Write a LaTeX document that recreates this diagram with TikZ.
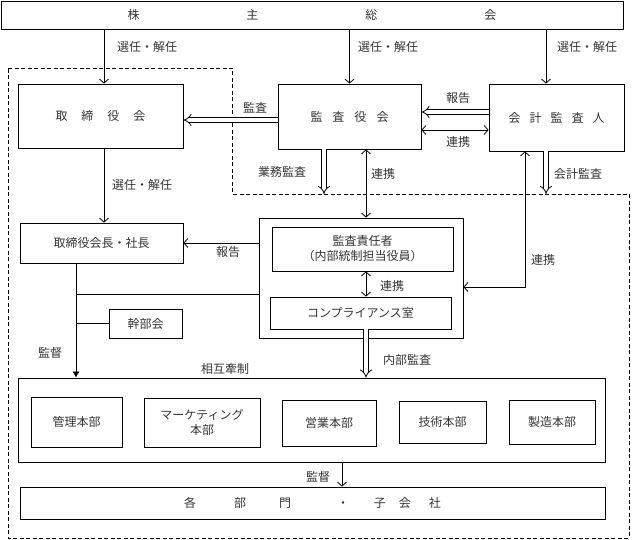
\documentclass[tikz,border=0pt]{standalone}
\usepackage{fontspec}
\setmainfont{Noto Sans CJK JP}
\usetikzlibrary{arrows.meta,calc}
\tikzset{>={Straight Barb[length=4pt,width=9pt]}}
\tikzset{
  box/.style={draw,line width=0.8pt,inner sep=0pt,align=center,text=black!80,font=\fontsize{12}{15}\selectfont},
  lbl/.style={text=black!80,font=\fontsize{12}{15}\selectfont},
  conn/.style={line width=0.8pt},
  arr/.style={line width=0.8pt,->},
  dbl/.style={line width=0.8pt,double=white,double distance=3.5pt,-{Implies}},
  boundary/.style={line width=0.8pt,dash pattern=on 4pt off 2.5pt},
}

\begin{document}
\begin{tikzpicture}[x=1pt,y=-1pt]
  \useasboundingbox (0,0) rectangle (638,540);

  % Boundary
  \draw[boundary] (8,68) -- (232,68) -- (232,194) -- (629,194) -- (629,538) -- (8,538) -- cycle;

  % Boxes
  \node[box,minimum width=622pt,minimum height=28pt] (soukai) at (312,15) {株\hspace{107pt}主\hspace{107pt}総\hspace{107pt}会};
  \node[box,minimum width=165pt,minimum height=64pt] (board) at (100.5,116) {取\hspace{14pt}締\hspace{14pt}役\hspace{14pt}会};
  \node[box,minimum width=143pt,minimum height=65pt] (kansa) at (349.5,116.5) {監\hspace{10pt}査\hspace{10pt}役\hspace{10pt}会};
  \node[box,minimum width=135pt,minimum height=67pt] (kaikei) at (556.5,117.5) {会\hspace{9pt}計\hspace{9pt}監\hspace{9pt}査\hspace{9pt}人};
  \node[box,minimum width=163pt,minimum height=40pt] (chair) at (101.5,243) {取締役会長・社長};
  \node[box,minimum width=204pt,minimum height=120pt] (audit) at (361,278) {};
  \node[box,minimum width=181pt,minimum height=44pt] (resp) at (362.5,249) {監査責任者\\（内部統制担当役員）};
  \node[box,minimum width=181pt,minimum height=32pt] (comp) at (360.5,313) {コンプライアンス室};
  \node[box,minimum width=73pt,minimum height=29pt] (kanbu) at (145.5,323.5) {幹部会};
  \node[box,minimum width=587pt,minimum height=84pt] (honbu) at (311.5,420) {};
  \node[box,minimum width=91pt,minimum height=50pt] (kanri) at (76.5,422) {管理本部};
  \node[box,minimum width=116pt,minimum height=49pt] (mkt) at (202,422.5) {マーケティング\\本部};
  \node[box,minimum width=94pt,minimum height=46pt] (eigyo) at (329,423) {営業本部};
  \node[box,minimum width=87pt,minimum height=42pt] (gijutsu) at (442.5,422) {技術本部};
  \node[box,minimum width=86pt,minimum height=44pt] (seizo) at (552,422) {製造本部};
  \node[box,minimum width=585pt,minimum height=32pt] (bumon) at (312.5,503) {各\hspace{38pt}部\hspace{33pt}門\hspace{46pt}・\hspace{25pt}子\hspace{13pt}会\hspace{18pt}社};

  % Coordinates
  \coordinate (dline) at (0,194);
  \coordinate (s1) at ($(board.north)+(3.5,0)$);
  \coordinate (s2) at (kansa.north);
  \coordinate (s3) at ($(kaikei.north)+(-10.5,0)$);
  \coordinate (k1) at ($(kansa.west)+(0,3.5)$);
  \coordinate (h1) at ($(kaikei.west)+(0,-5.5)$);
  \coordinate (r1) at ($(kaikei.west)+(0,12.5)$);
  \coordinate (g1) at ($(kansa.south)+(-25.5,0)$);
  \coordinate (r2) at ($(kansa.south)+(16.5,0)$);
  \coordinate (g2) at ($(kaikei.south)+(-10.5,0)$);
  \coordinate (r3) at ($(kaikei.south)+(-31.5,0)$);
  \coordinate (r4) at ($(audit.east)+(0,9)$);
  \coordinate (b1) at ($(board.south)+(3.5,0)$);
  \coordinate (t1) at ($(chair.south)+(-25.5,0)$);
  \coordinate (t2) at ($(audit.west)+(0,16)$);
  \coordinate (n1) at ($(comp.south)+(5.5,0)$);
  \coordinate (n2) at ($(resp.south)+(3.5,0)$);
  \coordinate (m1) at ($(honbu.south)+(30.5,0)$);

  % Lines
  \draw[arr] (s1 |- soukai.south) -- (s1);
  \draw[arr] (s2 |- soukai.south) -- (s2);
  \draw[arr] (s3 |- soukai.south) -- (s3);
  \draw[dbl] (k1) -- (k1 -| board.east);
  \draw[dbl] (h1) -- (h1 -| kansa.east);
  \draw[arr,<->] (r1) -- (r1 -| kansa.east);
  \draw[dbl] (g1) -- (g1 |- dline);
  \draw[arr,<->] (r2) -- (r2 |- audit.north);
  \draw[dbl] (g2) -- (g2 |- dline);
  \draw[arr,<->] (r3) |- (r4);
  \draw[arr] (audit.west |- chair.east) -- (chair.east);
  \draw[arr] (b1) -- (b1 |- chair.north);
  \draw[conn,-{Latex[length=6pt,width=7pt]}] (t1) -- (t1 |- honbu.north);
  \draw[conn] (t2 -| t1) -- (t2);
  \draw[conn] (kanbu.west -| t1) -- (kanbu.west);
  \draw[dbl] (n1) -- (n1 |- honbu.north);
  \draw[arr,<->] (n2) -- (n2 |- comp.north);
  \draw[arr] (m1) -- (m1 |- bumon.north);

  % Label
  \node[lbl] (l1) at (147,47) {選任・解任};
  \node[lbl] (l2) at (388,47) {選任・解任};
  \node[lbl] (l3) at (587,47) {選任・解任};
  \node[lbl] (l4) at (255,108) {監査};
  \node[lbl] (l5) at (458,98) {報告};
  \node[lbl] (l6) at (458,142) {連携};
  \node[lbl] (l7) at (142,185) {選任・解任};
  \node[lbl] (l8) at (282,172) {業務監査};
  \node[lbl] (l9) at (383,174) {連携};
  \node[lbl] (l10) at (578,174) {会計監査};
  \node[lbl] (l11) at (543,260) {連携};
  \node[lbl] (l12) at (228,252) {報告};
  \node[lbl] (l13) at (392,286) {連携};
  \node[lbl] (l14) at (50,353) {監督};
  \node[lbl] (l15) at (225,369) {相互牽制};
  \node[lbl] (l16) at (407,360) {内部監査};
  \node[lbl] (l17) at (318,477) {監督};
\end{tikzpicture}
\end{document}
